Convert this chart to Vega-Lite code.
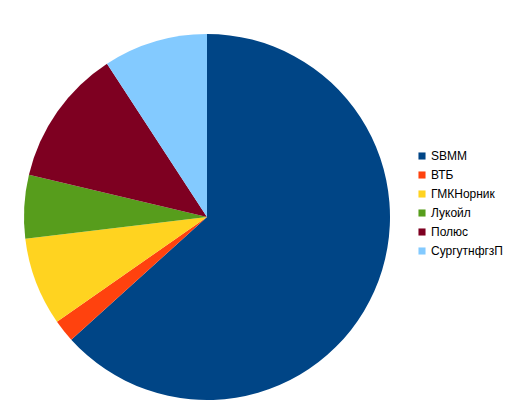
{
  "$schema": "https://vega.github.io/schema/vega-lite/v6.json",
  "width": 414,
  "height": 408,
  "autosize": "none",
  "padding": {"left": 0, "top": 13, "right": 97, "bottom": 0},
  "background": "white",
  "data": {
    "values": [
      {"name": "SBMM", "value": 63.3, "order": 1},
      {"name": "ВТБ", "value": 2.0, "order": 2},
      {"name": "ГМКНорник", "value": 7.8, "order": 3},
      {"name": "Лукойл", "value": 5.6, "order": 4},
      {"name": "Полюс", "value": 12.1, "order": 5},
      {"name": "СургутнфгзП", "value": 9.2, "order": 6}
    ]
  },
  "mark": {"type": "arc", "radius": 183},
  "encoding": {
    "theta": {"field": "value", "type": "quantitative", "stack": true},
    "order": {"field": "order", "type": "quantitative"},
    "color": {
      "field": "name",
      "type": "nominal",
      "sort": ["SBMM", "ВТБ", "ГМКНорник", "Лукойл", "Полюс", "СургутнфгзП"],
      "scale": {
        "domain": ["SBMM", "ВТБ", "ГМКНорник", "Лукойл", "Полюс", "СургутнфгзП"],
        "range": ["#004586", "#ff420e", "#ffd320", "#579d1c", "#7e0021", "#83caff"]
      },
      "legend": {
        "title": null,
        "orient": "none",
        "legendX": 416,
        "legendY": 137,
        "symbolType": "square",
        "symbolSize": 50,
        "symbolStrokeWidth": 0,
        "labelFont": "Liberation Sans",
        "labelFontSize": 12,
        "labelColor": "#000000",
        "labelOffset": 3,
        "rowPadding": 7
      }
    }
  },
  "config": {"view": {"stroke": null}}
}
